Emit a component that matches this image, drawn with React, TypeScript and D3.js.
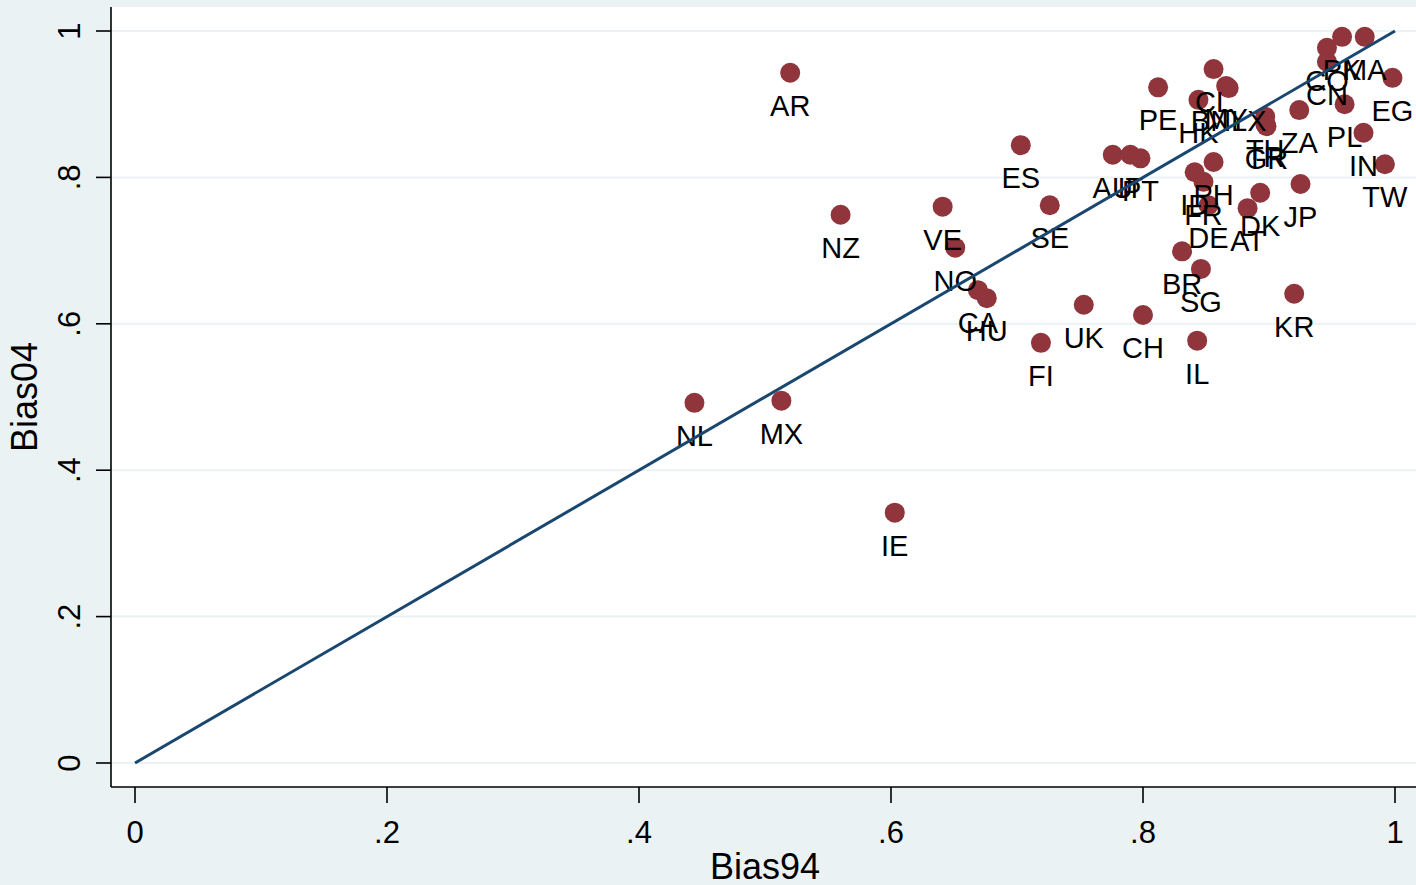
import React from "react";
import * as d3 from "d3";

const countries = ["AR","NZ","VE","NO","ES","SE","CA","HU","FI","UK","CH","NL","MX","IE","IL","KR","BR","SG","AU","IT","PT","PE","HK","CL","MY","BNLX","TH","GR","TR","ZA","CO","PK","MA","CN","EG","PL","IN","TW","JP","DK","AT","DE","FR","ID","PH"];
const bias94 = [0.520,0.560,0.641,0.651,0.703,0.726,0.669,0.676,0.719,0.753,0.800,0.444,0.513,0.603,0.843,0.920,0.831,0.846,0.776,0.790,0.798,0.812,0.844,0.856,0.866,0.868,0.897,0.898,0.897,0.924,0.946,0.958,0.976,0.946,0.998,0.960,0.975,0.992,0.925,0.893,0.883,0.852,0.848,0.841,0.856];
const bias04 = [0.943,0.749,0.760,0.704,0.844,0.762,0.646,0.635,0.574,0.626,0.612,0.492,0.495,0.342,0.577,0.641,0.699,0.675,0.831,0.831,0.826,0.923,0.906,0.948,0.925,0.922,0.883,0.870,0.873,0.892,0.977,0.992,0.992,0.958,0.936,0.900,0.861,0.818,0.791,0.779,0.758,0.762,0.794,0.807,0.821];
const xTicks = [0, 0.2, 0.4, 0.6, 0.8, 1];
const yTicks = [0, 0.2, 0.4, 0.6, 0.8, 1];
const fmt = (v: number) => (v === 0 ? "0" : v === 1 ? "1" : String(v).replace(/^0/, ""));

export default function App() {
  const W = 1416, H = 885;
  const x = d3.scaleLinear().domain([0, 1]).range([135, 1395]);
  const y = d3.scaleLinear().domain([0, 1]).range([763, 31]);
  const left = 111, top = 7, bottom = 787;
  const font = "'Liberation Sans', Arial, sans-serif";
  const line = d3.line<[number, number]>().x(d => x(d[0])).y(d => y(d[1]));
  return (
    <svg width={W} height={H} style={{ position: "absolute", left: 0, top: 0 }} fontFamily={font}>
      <rect x={0} y={0} width={W} height={H} fill="#EAF2F3" />
      <rect x={left} y={top} width={W - left} height={bottom - top} fill="#ffffff" />
      {yTicks.map(t => (
        <line key={"g" + t} x1={left} x2={W} y1={y(t)} y2={y(t)} stroke="#EAF2F3" strokeWidth={2} />
      ))}
      <line x1={left} x2={left} y1={top} y2={bottom} stroke="#000" strokeWidth={1.6} />
      <line x1={left} x2={W} y1={bottom} y2={bottom} stroke="#000" strokeWidth={1.6} />
      {yTicks.map(t => (
        <g key={"yt" + t}>
          <line x1={96} x2={left} y1={y(t)} y2={y(t)} stroke="#000" strokeWidth={1.6} />
          <text transform={`translate(80,${y(t)}) rotate(-90)`} textAnchor="middle" fontSize={31} fill="#000">{fmt(t)}</text>
        </g>
      ))}
      {xTicks.map(t => (
        <g key={"xt" + t}>
          <line x1={x(t)} x2={x(t)} y1={bottom} y2={803} stroke="#000" strokeWidth={1.6} />
          <text x={x(t)} y={843} textAnchor="middle" fontSize={31} fill="#000">{fmt(t)}</text>
        </g>
      ))}
      <text x={765} y={879} textAnchor="middle" fontSize={36} fill="#000">Bias94</text>
      <text transform={`translate(37,397) rotate(-90)`} textAnchor="middle" fontSize={36} fill="#000">Bias04</text>
      {countries.map((c, i) => (
        <circle key={"m" + c} cx={x(bias94[i])} cy={y(bias04[i])} r={10} fill="#90353B" />
      ))}
      {countries.map((c, i) => (
        <text key={"l" + c} x={x(bias94[i])} y={y(bias04[i]) + 43} textAnchor="middle" fontSize={29} fill="#000">{c}</text>
      ))}
      <path d={line([[0, 0], [1, 1]]) || ""} stroke="#1A476F" strokeWidth={3} fill="none" />
    </svg>
  );
}
